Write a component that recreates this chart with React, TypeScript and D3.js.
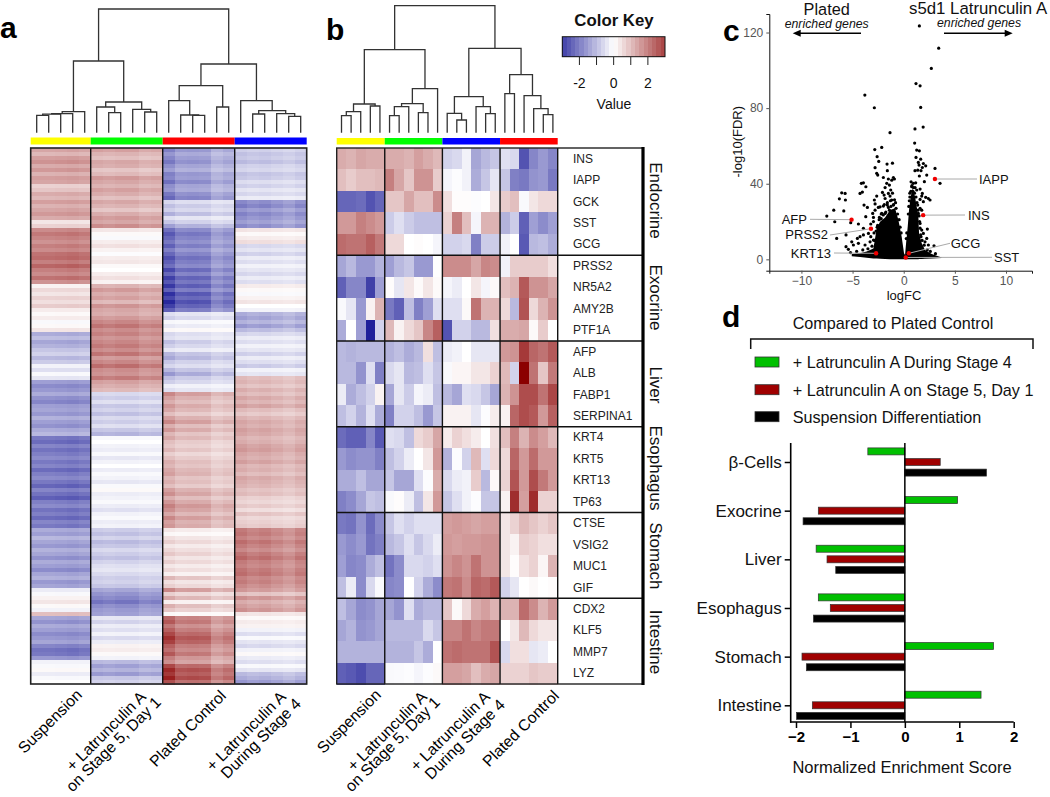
import React, { useEffect, useRef } from 'react';
import * as d3 from 'd3';

const suspensionRows = [1.4,1.1,1.5,1.7,1.3,1.6,1.2,1.5,1.4,.7,.9,1.3,1.1,1.5,1.2,1.4,1.6,1.3,.4,.7,1.8,2.1,1.9,1.7,2,1.8,2.2,2.3,2,2.4,2,1.8,2.2,1.7,.2,.6,.4,.7,.5,.8,.3,.1,.3,-.1,.1,.4,-1.3,-1,-1.4,-1.2,-.9,-.7,-1.1,-.8,-.2,-.5,-.1,-.4,-1.5,-1.8,-1.6,-1.3,-1.7,-1.9,-1.5,-1.4,-1.6,-1.2,-1.5,-1.7,-1.3,-1.1,-2.1,-2.3,-1.9,-2.2,-2,-1.8,-2.1,-1.9,-2.3,-2,-1.8,-2.1,-2.4,-1.9,-2.2,-2.5,-2,-1.8,-2.2,-2,-2.3,-1.9,-2.1,-1.3,-1.5,-1.1,-1.4,-1.6,-1.2,-1.4,-1.7,-1.3,-1.5,-1.8,-1.4,-1.2,-1.6,-1.4,-.3,-.1,.2,.4,.1,-.2,1,-1.4,-1.7,-1.3,-1.5,-1.8,-1.6,-1.4,-1.9,-2.2,-2.1,-1.6,-.2,-.1,.1,-.3,-.1,0];
const stage5Rows = [1.5,1.2,1,1.4,1.3,.9,1.1,1.6,1.4,1.2,1.5,1.3,1,1.4,1.2,.9,1.3,1.6,1.4,1.8,.4,.1,-.1,.3,.5,.2,-.05,.3,.4,.1,0,.3,.5,.2,1.2,1.6,1.3,1.5,1.1,1.7,1.4,1.3,1.6,1.9,2.2,1.8,2,1.7,1.9,2.1,1.8,2.2,1.6,1.9,2.3,1.8,1.7,2.1,1.5,1.3,1.1,-.6,-.8,-.5,-.9,-.7,-1,-.6,-.8,-.5,-.9,-1.2,-.1,0,-.2,-.3,-.1,-.4,-.2,0,-.3,-.1,-.2,-.4,-.1,.1,-.3,-.2,-.1,-.3,-.5,-.2,-.1,-.3,-.2,-.8,-1,-.7,-1.1,-.9,-.6,-.8,-1,-.7,-.5,-.4,-.6,-.8,-.7,-.9,-1.4,-1.7,-1.9,-2.2,-1.8,-1.6,-1.5,-.4,-.7,-.3,-.5,-.2,-.6,-.3,.2,.3,.1,-.2,-1.1,-1.5,-1.2,-1.6,-.9,-.7];
const platedRows = [-1.6,-1.3,-1.5,-1.7,-1.4,-1.2,-1.6,-1.5,-1.8,-1.4,-1.3,-1.7,-1.9,-.5,-.8,-.6,-1,-.4,-.7,-1.2,-1.8,-2.1,-1.9,-1.7,-2,-1.6,-1.9,-2.2,-2,-1.8,-2.3,-1.9,-2.4,-2.1,-2.5,-2,-2.6,-2.3,-2.7,-2.4,-2,-.4,-.6,-.1,-.3,.1,-.5,-.4,-.8,-.6,-.3,-.9,-1.1,-.7,-.5,-.9,-1.3,-.8,-.6,-.2,-.4,1.5,1.2,1,1.3,1.1,.8,1.2,1.5,1,1.3,.9,1.1,.8,.7,.9,.6,.8,1,.9,1.1,1.2,.9,1,.8,1.2,1.4,1,1.3,1.6,1.4,1.1,1.5,1.2,1.3,.3,.1,.4,.6,.3,.5,.7,.4,.6,.3,.5,.2,.9,.4,.6,1.5,.6,1.1,.2,1,.7,.1,1.9,2.1,1.7,2,2.3,2.6,2.4,2,1.8,2.1,1.6,1.4,2.3,2.7,2.5,2.8,2.2];
const stage4Rows = [-.7,-.9,-.8,-1,-.7,-.6,-.9,-.8,-.5,-.7,-.4,-.6,-.3,-1.7,-1.9,-1.5,-1.8,-1.6,-1.4,-1.7,.4,.1,.3,.5,-.6,-.4,-.7,-.3,-.5,-.2,-.4,-.6,-.3,-.5,.3,.1,-.1,.2,.4,0,-.2,-1.2,-1.4,-1.1,-1.5,-1,-.6,-.3,-.5,-.2,-.4,-.7,-.3,-.5,-.8,-.2,-.4,1,1.1,.9,1.2,1,1.3,1.1,1.4,1,.8,1.1,1.3,1.2,1.4,1.3,1.1,1.2,1.4,1.5,1.3,1.2,1.4,1.1,1.2,1,1.3,1.2,1.1,.9,1,.7,.6,.8,.5,.9,.6,.7,.8,1.9,2,1.8,2.1,1.9,1.7,2,2.2,1.9,1.8,2,2.1,1.8,1.9,1.7,1.5,.9,1.6,1.2,1.4,1.6,.4,.1,.3,.2,-.2,-.5,-.1,-.4,-.6,-.2,.1,-.3,-.5,-.1,-.4,-1,-1.2,-1.5];
// How strongly each sample column follows its group's row value
const suspensionWeights = [1, 1, 1.02, 1.05, 1];
const stage5Weights = [1, .95, 1, 1, .88, .92];
const platedWeights = [1.25, 1, 1.02, 1, .75, .85];
const stage4Weights = [1.1, 1, 1.05, .95, .85, 1];

// Panel b
const genes = ['INS','IAPP','GCK','SST','GCG','PRSS2','NR5A2','AMY2B','PTF1A','AFP','ALB','FABP1','SERPINA1','KRT4','KRT5','KRT13','TP63','CTSE','VSIG2','MUC1','GIF','CDX2','KLF5','MMP7','LYZ'];
const geneValues = [
  [1.3,1.2,1.4,1.3,1.3, 1.3,1.3,1.2,1.5,1.3,1.1, -.7,-.6,-.2,-1.4,-1.1,-.9, -.5,-.6,-2.7,-1.9,-1.6,-1.9],
  [1,.8,1,1,1.1, 2,1.4,.9,1.7,1.7,.8, -.15,-.05,-.2,-1.3,-.9,-.4, -.9,-2,-2.1,-1.7,-1.6,-2.1],
  [-2.4,-2.4,-2.3,-2.7,-2.4, .9,.9,1.4,1,1,1.8, .5,.05,.05,-.05,0,.4, .8,1,-.1,.4,.6,.6],
  [1.6,1.6,2,1.8,1.6, -.8,-.5,-.8,-1,-1,-1, .7,2,1,-.15,1.2,1.2, -1.2,-.8,-2.5,-1.5,-1.8,-1.5],
  [2.3,2.2,2.2,2.5,2.1, .6,.6,0,.05,0,-.15, -.7,-.7,-.6,-2,-.8,-.8, -.2,0,-2.6,-1.1,-1,-1.3],
  [-1.4,-1.1,-1.6,-1.6,-1.2, -1.5,-1.1,-.9,-1.6,-1.6,-.02, 1.8,1.8,1.8,1.4,1.9,1.8, -.2,.8,.8,.8,.8,.5],
  [-2.5,-1.9,-1.9,-3,-1.5, .05,-.4,.4,.08,.4,.08, -.15,-.3,0,.4,-.15,.1, 1,1.2,2.6,1.7,1.7,1.4],
  [-.1,-.4,-1.6,.2,1.2, -2.1,-2.5,-1,-2,-1.5,-.5, -.5,-.5,.1,2.2,1.2,1.2, .6,-1.1,2.7,.6,1.2,1.7],
  [-1.3,0,-1.5,-3.5,-.7, 1.1,.2,.6,.9,1.9,2.5, -2.7,-.7,-.7,-1.1,-1.1,.5, 1.3,1.3,1.4,.1,.8,-.02],
  [-1.1,-1.2,-1.1,-1.1,-1.1, -1.2,-1,-1.3,-1.1,.5,-1, -.3,-.2,0,-.4,-.4,-.4, 1.6,1.7,3.1,2.4,2.2,2.6],
  [-1.1,-1.1,-1.7,-.5,-2, -.6,-.4,-1.1,-1,-.5,-.9, -.1,.15,.15,.4,.4,.7, 1.1,-.7,4,2.2,.9,2.1],
  [-.3,-1.3,-1,-.7,.2, -1.4,-.4,-.8,-.15,-.3,-1, -1.1,-1.4,-.5,-.6,-.9,-1.4, 1.2,1.7,2.8,2.8,2.2,2.9],
  [-1,-.7,-1.2,-.5,-1.3, -2,-.7,-.7,-1,-1.6,-.9, .2,.2,.2,-.4,-.05,.3, .2,2.4,2.8,2.6,1.6,2.5],
  [-2.3,-2.5,-2.5,-1.9,-2.6, -.5,-.6,-1,.6,.8,1.4, .3,.7,.5,.3,0,.5, 1,2,1.2,1.8,1.5,1.1],
  [-1.6,-1.8,-1.7,-1.7,-2, -1,-.7,-.3,0,.4,1.6, -1.2,-.05,-.7,1.1,-.5,.6, .6,2.4,1.6,2.3,1.6,1.6],
  [-1.3,-1.3,-1,-1.4,-1.4, -.9,-1.4,-1.4,-.5,-.05,1.3, -.6,-.3,-.2,.8,-1.1,.1, .7,2.7,1.6,2.8,2.1,1.6],
  [-2,-1.8,-1.4,-.9,-1, -.1,.05,-.3,-1,.4,1.6, -.9,-.5,-.2,-.05,-.9,-.9, .2,3.3,1.5,3.3,.7,.7],
  [-2.1,-2.2,-1.7,-2.3,-1.8, -.9,-.5,-.7,-.5,-.5,-.5, 1.5,1.6,1.5,1.4,1.5,1.5, .4,.7,1.1,.9,.7,.9],
  [-1.6,-1.8,-1.6,-2.2,-2, -1.1,-.9,-.5,-.9,-.6,-.3, 1.6,1.5,1.6,1.6,1.7,1.7, .4,.2,.8,.7,.5,.5],
  [-1.5,-1.9,-1.8,-1.3,-1, -2.2,-1.8,-.6,-.6,-.7,-.5, 1.7,1.9,1.7,2.2,1.7,1.7, .4,.05,.5,.7,.15,1.2],
  [-1,-.3,-1.8,-.6,-.1, -1.9,-1.8,0,-.7,-1.3,-1.8, 2.1,2.2,1.8,2.4,2.3,2.6, -.7,-.4,0,.1,0,.05],
  [-1,-1.4,-1.8,-1.7,-1.4, -1.4,-1.7,-.5,-1.3,-1.1,-1.1, .9,.1,.6,1.3,1.5,1.2, 1.2,1.2,2.3,1.8,1.2,1.6],
  [-1.4,-1.2,-1.7,-1.6,-1.4, -1.1,-1.1,-1.1,-1.1,-.6,-.9, 1.9,1.9,2.2,1.9,2.1,2.1, 0,.4,1.1,.6,.4,.4],
  [-1.2,-1.2,-1.2,-1.2,-1.2, -1.2,-1.2,-1.2,-.9,-1.3,0, 2.2,2.3,2.2,2.2,2.2,2.7, -.6,.5,.5,-.4,-.3,0],
  [-2.5,-2.6,-2.8,-2.4,-2.4, -.1,-.08,-.05,-.15,-.05,.1, 1.5,1.5,1.4,1,1.3,1.4, .7,.7,.7,.9,.8,.8],
];
const geneGroups = ['Endocrine', 'Exocrine', 'Liver', 'Esophagus', 'Stomach', 'Intestine'];
const geneGroupSizes = [5, 4, 4, 4, 4, 4];

// Dendrograms: [height, left, right], 0 is a leaf
const treeA: any = [123.7,
  [71.7,
    [21, [19, [18.5, [17.3, 0, 0], 0], 0], 0],
    [30.7, [25.7, 0, [20, 0, 0]], [23.3, 0, [20.7, 0, 0]]]],
  [68.7,
    [47, [32, 0, [17.7, 0, [17.3, 0, 0]]], [25.7, 0, 0]],
    [32, 0, [22, [18.7, 0, 0], [19, 0, [16.3, 0, 0]]]]]];
const treeB: any = [127,
  [83,
    [28.7, [21, [17, 0, 0], 0], [26.7, 0, 0]],
    [44, [29, [26, [17, 0, 0], 0], [20, 0, 0]], 0]],
  [84.3,
    [36, [19.3, 0, [12.7, 0, 0]], [26, 0, [19, 0, 0]]],
    [58, [39, 0, 0], [37, 0, [24, 0, [18, 0, 0]]]]]];

// Panel c: logFC, -log10(FDR)
const volcanoPoints = [
  [1.53,123.5],[3.42,111.7],[2.7,101],[1.2,93],[1.6,91.8],[-3.8,86.9],[-2.87,80.2],[1.66,80.4],[1.9,70],[1.1,69],[-1.34,67],
  [1.07,61.5],[-2.83,58.1],[-2.15,59.2],[1.27,57.8],[1.53,57.4],[-2.6,54.3],[1.2,53.9],[-2.44,51.8],[1.66,53],[1.43,51.3],[1.92,50.7],
  [1.5,49.9],[2.15,49.5],[1.82,48.6],[3.06,48.1],[1.69,46.9],[1.1,46.9],[1.37,47.2],[1.53,44.1],[2.25,44.6],[2.02,41.1],[3.55,40.2],
  [.72,41],[.94,40.2],[1.17,40.5],[.78,38.4],[1.11,38],[1.27,36.7],[1.6,37.2],[1.82,34.9],[1.76,33.5],[2.15,32.8],[2.57,31.4],[2.41,32.2],
  [1.92,30.5],[1.6,31.7],[1.37,28.7],[1.6,27],[1.76,26],[1.43,24.3],[1.27,20.8],[1.6,19],[2.31,16],[1.76,15.5],[1.92,13.7],[1.69,12],
  [2.96,7.2],[2.25,11.1],[2.41,7.6],[2.08,9.3],[.6,35],[.9,36],[1.0,33],[.75,30],
  [-1.63,50.4],[-1.1,50.9],[-2.8,48.5],[-1.6,46.9],[-2.64,45.5],[-2.54,44.6],[-1.99,43.3],[-1.01,43.3],[-1.5,42.5],[-1.17,41.9],[-.91,42.5],
  [-1.66,40.2],[-1.4,39.3],[-1.82,38],[-2.08,35.4],[-1.92,34],[-1.5,34.9],[-1.27,36.7],[-1.34,33.5],[-1.82,32.2],[-2.64,33.5],[-2.87,31.4],
  [-2.8,29.3],[-2.31,27.8],[-3.88,28.7],[-3.55,27.5],[-2.8,26],[-3.03,24.3],[-2.96,22.2],[-2.48,27.5],[-1.99,28.2],[-1.6,28.7],[-1.17,31.4],
  [-1.01,28.7],[-1.4,26],[-2.15,24.3],[-2.38,22.2],[-1.82,24.3],[-2.96,20],[-3.22,18.7],[-3.94,16.4],[-4.43,18.7],[-3.94,12.9],[-4.27,12],
  [-4.53,11.1],[-5.08,9.3],[-5.64,6.7],[-5.41,5.3],[-4.92,7.6],[-4.43,8.5],[-3.45,13.7],[-3.22,12],[-2.96,10.2],[-3.78,7.6],[-3.29,9.3],
  [-5.64,12.9],[-6.55,11.1],[-4.14,40.2],[-3.94,40.5],[-3.7,38.4],[-4.04,35.6],[-4.27,34.9],[-6.06,35.2],[-5.73,34.9],[-6.29,32],[-5.7,31.4],
  [-6.84,26],[-5.86,25.6],[-7.52,22.9],[-6.74,19.9],[-5.18,19.4],[-3.71,22.6],[-2.6,17],[-2.9,14],[-2.2,24],[-1.1,35],[-.8,30],[-1.9,29],
  [-2.7,15],[-2.55,18],[-2.4,21],[-2.2,21.5],[-2,23.5],[-1.75,25],[-1.5,27.5],[-1.25,28],[-1,29],[-.75,27],[-.6,24],[-.45,21],[-.35,17],[-.25,14],
  [-2.85,10],[-2.75,7.5],[-3.1,7],[-3.5,5.6],[-4,5],[-4.6,4.2],[-5.2,3.6],[-1.6,30],[-1.3,31],[-.9,31.5],
  [.45,24],[.5,28],[.55,31],[.6,33],[.7,36],[.8,39],[.95,38],[1.05,35],[1.2,33],[1.3,30],[1.4,26],[1.5,23],[1.55,20],[1.6,16.5],[1.65,13],[1.8,10],
  [2,7.5],[2.3,5],[2.6,4.2],[3.1,3],[.3,14],[.25,11],
];
const envelopeFC = [-5.08,-4.27,-3.62,-2.96,-2.64,-2.31,-1.82,-1.34,-.85,-.52,-.2,.03,.13,.23,.39,.52,.68,.85,1.11,1.43,1.5,1.76,2.08,2.74,3.71];
const envelopeTop = [2.8,3.2,4.1,5.8,16.4,19.9,22.2,26.1,27,20.8,12,3.2,2.3,8.5,17.3,26.1,33.1,37.5,33.1,22.6,13.7,8.5,4.9,2.8,1];
const envelopeBottom = [1.6,1.2,.8,.5,.4,.3,.2,.1,.1,0,0,0,0,0,0,0,0,.1,.1,.1,.2,.2,.3,.4,.7];
const markedGenes = ['IAPP', 'INS', 'AFP', 'PRSS2', 'KRT13', 'GCG', 'SST'];
const markedFC = [3.05, 1.9, -5.1, -3.2, -2.7, .5, .2];
const markedFDR = [42.5, 23.4, 21, 16.2, 3.2, 3.2, 1];

// Panel d
const pathways = ['β-Cells', 'Exocrine', 'Liver', 'Esophagus', 'Stomach', 'Intestine'];
const enrichSeries = ['+ Latrunculin A During Stage 4', '+ Latrunculin A on Stage 5, Day 1', 'Suspension Differentiation'];
const enrichColors = ['#00c000', '#a00000', '#000000'];
const stage4Nes = [-.68, .97, -1.63, -1.59, 1.63, 1.4];
const stage5Nes = [.65, -1.59, -1.43, -1.37, -1.89, -1.7];
const suspensionNes = [1.5, -1.87, -1.27, -1.68, -1.81, -1.99];

const FONT = '"Liberation Sans", Arial, sans-serif';
const heat = d3.scaleLinear<string>().domain([-4, 0, 4]).range(['#00008b', '#ffffff', '#8b0000']).clamp(true);

const addText = (g: any, x: number, y: number, text: string, size: number, opts: any = {}) =>
  g.append('text')
    .attr('x', x).attr('y', y)
    .attr('font-size', size)
    .attr('font-family', FONT)
    .attr('font-weight', opts.weight || 'normal')
    .attr('font-style', opts.style || 'normal')
    .attr('fill', opts.fill || '#111')
    .attr('text-anchor', opts.anchor || 'start')
    .attr('dominant-baseline', opts.baseline || 'central')
    .attr('transform', opts.rotate ? `rotate(${opts.rotate},${x},${y})` : null)
    .text(text);

// Walks the tree through d3.hierarchy and draws the elbows
const drawDendrogram = (g: any, tree: any, x: d3.ScaleBand<number>, y: d3.ScaleLinear<number, number>) => {
  const root = d3.hierarchy(tree, (d: any) => (Array.isArray(d) ? [d[1], d[2]] : null));
  const leaves = root.leaves();
  const xOf = new Map<any, number>();
  root.eachAfter((n: any) => {
    xOf.set(n, n.children ? (xOf.get(n.children[0])! + xOf.get(n.children[1])!) / 2 : x(leaves.indexOf(n))! + x.bandwidth() / 2);
  });
  root.each((n: any) => {
    if (!n.children) return;
    const h = y(n.data[0]);
    const [a, b] = n.children;
    const hOf = (c: any) => y(c.children ? c.data[0] : 0);
    g.append('path')
      .attr('d', `M${xOf.get(a)},${hOf(a)}V${h}H${xOf.get(b)}V${hOf(b)}`)
      .attr('fill', 'none')
      .attr('stroke', '#333')
      .attr('stroke-width', 1.3);
  });
};

const drawRotatedLabels = (g: any, labels: { x: number; y: number; text: string }[]) => {
  labels.forEach(l => addText(g, l.x, l.y, l.text, 15.8, { anchor: 'end', rotate: -45, fill: '#000' }));
};

const App: React.FC = () => {
  const svgRef = useRef<SVGSVGElement>(null);

  useEffect(() => {
    const svg = d3.select(svgRef.current);
    svg.selectAll('*').remove();
    svg.append('rect').attr('width', 1050).attr('height', 797).attr('fill', '#fff');

    // --- panel a ---
    const a = svg.append('g');
    const groupsA = [
      { rows: suspensionRows, weights: suspensionWeights, color: '#ffff00' },
      { rows: stage5Rows, weights: stage5Weights, color: '#00ff00' },
      { rows: platedRows, weights: platedWeights, color: '#ff0000' },
      { rows: stage4Rows, weights: stage4Weights, color: '#0000ff' },
    ];
    const colA = d3.scaleBand<number>().domain(d3.range(23)).range([30.7, 306.7]);
    const rowA = d3.scaleBand<number>().domain(d3.range(suspensionRows.length)).range([148, 684]);
    let start = 0;
    const splitsA: number[] = [];
    groupsA.forEach(group => {
      group.weights.forEach((w, j) => {
        a.append('g').attr('shape-rendering', 'crispEdges').selectAll('rect')
          .data(group.rows)
          .enter()
          .append('rect')
          .attr('x', colA(start + j)!)
          .attr('y', (_d, i) => rowA(i)!)
          .attr('width', colA.bandwidth() + .5)
          .attr('height', rowA.bandwidth() + .5)
          .attr('fill', d => heat(d * w));
      });
      a.append('rect')
        .attr('x', colA(start)!)
        .attr('y', 137.5)
        .attr('width', colA.bandwidth() * group.weights.length)
        .attr('height', 7)
        .attr('fill', group.color);
      start += group.weights.length;
      splitsA.push(start);
    });
    splitsA.slice(0, 3).forEach(s => {
      a.append('line').attr('x1', colA(s)!).attr('x2', colA(s)!).attr('y1', 148).attr('y2', 684)
        .attr('stroke', '#111').attr('stroke-width', 1.4);
    });
    a.append('rect').attr('x', 30.7).attr('y', 148).attr('width', 276).attr('height', 536)
      .attr('fill', 'none').attr('stroke', '#222').attr('stroke-width', 1.6);
    drawDendrogram(a, treeA, colA, d3.scaleLinear().domain([0, 123.7]).range([132.7, 9]));
    drawRotatedLabels(a, [
      { x: 79, y: 692, text: 'Suspension' },
      { x: 143, y: 694, text: '+ Latrunculin A' },
      { x: 158, y: 699.5, text: 'on Stage 5, Day 1' },
      { x: 223, y: 693, text: 'Plated Control' },
      { x: 283, y: 694, text: '+ Latrunculin A' },
      { x: 298, y: 701, text: 'During Stage 4' },
    ]);

    // --- panel b ---
    const b = svg.append('g');
    const colB = d3.scaleBand<number>().domain(d3.range(23)).range([336.7, 557.7]);
    const rowB = d3.scaleBand<number>().domain(d3.range(genes.length)).range([148, 684]);
    geneValues.forEach((values, r) => {
      b.append('g').attr('shape-rendering', 'crispEdges').selectAll('rect')
        .data(values)
        .enter()
        .append('rect')
        .attr('x', (_d, c) => colB(c)!)
        .attr('y', rowB(r)!)
        .attr('width', colB.bandwidth() + .5)
        .attr('height', rowB.bandwidth() + .5)
        .attr('fill', d => heat(d));
      addText(b, 573, rowB(r)! + rowB.bandwidth() / 2, genes[r], 12, { fill: '#222' });
    });
    const barsB = [{ n: 5, color: '#ffff00' }, { n: 6, color: '#00ff00' }, { n: 6, color: '#0000ff' }, { n: 6, color: '#ff0000' }];
    let startB = 0;
    barsB.forEach(bar => {
      b.append('rect').attr('x', colB(startB)!).attr('y', 138).attr('width', colB.bandwidth() * bar.n).attr('height', 6.5).attr('fill', bar.color);
      startB += bar.n;
      if (startB < 23) {
        b.append('line').attr('x1', colB(startB)!).attr('x2', colB(startB)!).attr('y1', 148).attr('y2', 684)
          .attr('stroke', '#111').attr('stroke-width', 1.4);
      }
    });
    b.append('line').attr('x1', 557.7).attr('x2', 557.7).attr('y1', 148).attr('y2', 684).attr('stroke', '#111').attr('stroke-width', 1.4);
    let rowStart = 0;
    const labelCenters = [200.5, 297.5, 385, 468, 556, 642];
    geneGroups.forEach((name, i) => {
      rowStart += geneGroupSizes[i];
      if (rowStart < genes.length) {
        b.append('line').attr('x1', 336.7).attr('x2', 642).attr('y1', rowB(rowStart)!).attr('y2', rowB(rowStart)!)
          .attr('stroke', '#111').attr('stroke-width', 1.4);
      }
      addText(b, 655, labelCenters[i], name, 17, { anchor: 'middle', rotate: 90, fill: '#111' });
    });
    b.append('rect').attr('x', 336.7).attr('y', 148).attr('width', 306).attr('height', 536)
      .attr('fill', 'none').attr('stroke', '#222').attr('stroke-width', 1.4);
    b.append('line').attr('x1', 643).attr('x2', 643).attr('y1', 147).attr('y2', 685).attr('stroke', '#000').attr('stroke-width', 3.2);
    drawDendrogram(b, treeB, colB, d3.scaleLinear().domain([0, 127]).range([132.7, 5.7]));
    drawRotatedLabels(b, [
      { x: 378, y: 692, text: 'Suspension' },
      { x: 424, y: 694, text: '+ Latrunculin A' },
      { x: 437, y: 699.5, text: 'on Stage 5, Day 1' },
      { x: 487, y: 694, text: '+ Latrunculin A' },
      { x: 502, y: 702, text: 'During Stage 4' },
      { x: 556, y: 693, text: 'Plated Control' },
    ]);

    // Color key
    const key = svg.append('g');
    const keyX = d3.scaleLinear().domain([-3, 3]).range([562.3, 665]);
    const keySteps = d3.range(-3, 3, .25);
    key.append('g').attr('shape-rendering', 'crispEdges').selectAll('rect')
      .data(keySteps)
      .enter()
      .append('rect')
      .attr('x', d => keyX(d))
      .attr('y', 36.7)
      .attr('width', keyX(.25) - keyX(0) + .4)
      .attr('height', 20)
      .attr('fill', d => heat(d + .125));
    key.append('rect').attr('x', 562.3).attr('y', 36.7).attr('width', 102.7).attr('height', 20)
      .attr('fill', 'none').attr('stroke', '#111').attr('stroke-width', 1);
    d3.range(-2, 3).forEach(t => {
      key.append('line').attr('x1', keyX(t)).attr('x2', keyX(t)).attr('y1', 57).attr('y2', 65).attr('stroke', '#222');
      if (t % 2 === 0) addText(key, keyX(t), 83, String(t), 14, { anchor: 'middle' });
    });
    addText(key, 614, 20, 'Color Key', 16.8, { anchor: 'middle', weight: 'bold' });
    addText(key, 614, 104, 'Value', 14, { anchor: 'middle' });

    // --- panel c ---
    const c = svg.append('g');
    const xC = d3.scaleLinear().domain([-13.14, 12.54]).range([769.3, 1032]);
    const yC = d3.scaleLinear().domain([-6, 129.8]).range([270.7, 14]);
    const massArea = d3.area<number>()
      .x((_d, i) => xC(envelopeFC[i]))
      .y0((_d, i) => yC(envelopeBottom[i]))
      .y1(d => yC(d));
    c.append('path').attr('d', massArea(envelopeTop)!).attr('fill', '#000');
    c.selectAll('.volcano-dot')
      .data(volcanoPoints)
      .enter()
      .append('circle')
      .attr('class', 'volcano-dot')
      .attr('cx', d => xC(d[0]))
      .attr('cy', d => yC(d[1]))
      .attr('r', 1.6)
      .attr('fill', '#000');

    const xAxisC = c.append('g').attr('transform', 'translate(0,270.7)')
      .call(d3.axisBottom(xC).tickValues([-10, -5, 0, 5, 10]).tickSizeOuter(0).tickSize(3).tickFormat(d3.format('d')));
    const yAxisC = c.append('g').attr('transform', 'translate(769.3,0)')
      .call(d3.axisLeft(yC).tickValues([0, 40, 80, 120]).tickSizeOuter(0).tickSize(3));
    [xAxisC, yAxisC].forEach(ax => {
      ax.select('.domain').attr('stroke', '#111').attr('stroke-width', 1);
      ax.selectAll('line').attr('stroke', '#555');
      ax.selectAll('text').attr('font-family', FONT).attr('font-size', 12).attr('fill', '#555');
    });
    addText(c, 904, 295, 'logFC', 13, { anchor: 'middle' });
    addText(c, 737.7, 141.7, '-log10(FDR)', 13, { anchor: 'middle', rotate: -90 });

    // Gene callouts, line ends are given in screen position next to their label
    const callouts = [
      { tx: 979, ty: 179, anchor: 'start', end: [977, 179] },
      { tx: 968, ty: 215, anchor: 'start', end: [965, 215] },
      { tx: 807, ty: 219.3, anchor: 'end', end: [810, 219.3] },
      { tx: 828, ty: 234, anchor: 'end', end: [830, 235] },
      { tx: 831, ty: 253, anchor: 'end', end: [834, 253] },
      { tx: 950.7, ty: 243, anchor: 'start', end: [950, 243.3] },
      { tx: 994, ty: 257, anchor: 'start', end: [992, 257.3] },
    ];
    markedGenes.forEach((name, i) => {
      const co = callouts[i];
      c.append('line')
        .attr('x1', xC(markedFC[i])).attr('y1', yC(markedFDR[i]))
        .attr('x2', co.end[0]).attr('y2', co.end[1])
        .attr('stroke', '#aaa').attr('stroke-width', 1);
      addText(c, co.tx, co.ty, name, 13, { anchor: co.anchor });
    });
    markedGenes.forEach((_name, i) => {
      c.append('circle').attr('cx', xC(markedFC[i])).attr('cy', yC(markedFDR[i])).attr('r', 2.2).attr('fill', '#f00000');
    });

    addText(c, 826.7, 8.5, 'Plated', 16.3, { anchor: 'middle' });
    addText(c, 909, 8.5, 's5d1 Latrunculin A', 16.8, {});
    addText(c, 826.7, 24, 'enriched genes', 12.3, { anchor: 'middle', style: 'italic' });
    addText(c, 979, 23, 'enriched genes', 12.3, { anchor: 'middle', style: 'italic' });
    c.append('path').attr('d', 'M861,33.3H798M944,33.3H1007').attr('stroke', '#000').attr('stroke-width', 1.6).attr('fill', 'none');
    c.append('path').attr('d', 'M792.7,33.3l8,-3.5v7zM1012.7,33.3l-8,-3.5v7z').attr('fill', '#000');

    // --- panel d ---
    const d = svg.append('g');
    addText(d, 893, 322.7, 'Compared to Plated Control', 16.2, { anchor: 'middle' });
    d.append('path').attr('d', 'M750.7,349V339H1033V349').attr('fill', 'none').attr('stroke', '#111').attr('stroke-width', 1.5);
    const legendY = [362, 389.7, 416.7];
    enrichSeries.forEach((name, i) => {
      d.append('rect').attr('x', 755).attr('y', legendY[i] - 5).attr('width', 24).attr('height', 10)
        .attr('fill', enrichColors[i]).attr('stroke', '#333').attr('stroke-width', .8);
      addText(d, 792.7, legendY[i], name, 16.2, {});
    });

    const xD = d3.scaleLinear().domain([-2, 2]).range([796, 1013.7]);
    const yD = d3.scalePoint<string>().domain(pathways).range([462, 705.3]);
    const seriesOffset = d3.scalePoint<string>().domain(enrichSeries).range([-10.6, 10.6]);
    [stage4Nes, stage5Nes, suspensionNes].forEach((values, s) => {
      d.selectAll(`.nes-bar-${s}`)
        .data(values)
        .enter()
        .append('rect')
        .attr('class', `nes-bar-${s}`)
        .attr('x', v => Math.min(xD(v), xD(0)))
        .attr('y', (_v, i) => yD(pathways[i])! + seriesOffset(enrichSeries[s])! - 3.5)
        .attr('width', v => Math.abs(xD(v) - xD(0)))
        .attr('height', 7)
        .attr('fill', enrichColors[s])
        .attr('stroke', '#333')
        .attr('stroke-width', .7);
    });
    d.append('line').attr('x1', xD(0)).attr('x2', xD(0)).attr('y1', 443).attr('y2', 722).attr('stroke', '#000').attr('stroke-width', 1.5);
    d.append('line').attr('x1', 790.7).attr('x2', 790.7).attr('y1', 443).attr('y2', 722.7).attr('stroke', '#000').attr('stroke-width', 1.6);
    const xAxisD = d.append('g').attr('transform', 'translate(0,722)')
      .call(d3.axisBottom(xD).tickValues([-2, -1, 0, 1, 2]).tickSizeOuter(0).tickSize(6).tickFormat(d3.format('d')));
    xAxisD.select('.domain').attr('d', 'M790,0H1013.7').attr('stroke', '#000').attr('stroke-width', 1.5);
    xAxisD.selectAll('line').attr('stroke', '#000').attr('stroke-width', 1.5);
    xAxisD.selectAll('text').attr('font-family', FONT).attr('font-size', 15).attr('font-weight', 'bold').attr('fill', '#000');
    const yAxisD = d.append('g').attr('transform', 'translate(790.7,0)')
      .call(d3.axisLeft(yD).tickSizeOuter(0).tickSize(6).tickPadding(3));
    yAxisD.select('.domain').remove();
    yAxisD.selectAll('line').attr('stroke', '#000').attr('stroke-width', 1.5);
    yAxisD.selectAll('text').attr('font-family', FONT).attr('font-size', 17).attr('fill', '#111');
    addText(d, 902, 767, 'Normalized Enrichment Score', 16.5, { anchor: 'middle' });

    // Panel letters
    addText(svg, 0, 38, 'a', 30, { weight: 'bold', baseline: 'auto', fill: '#000' });
    addText(svg, 326, 40, 'b', 30, { weight: 'bold', baseline: 'auto', fill: '#000' });
    addText(svg, 723, 41, 'c', 30, { weight: 'bold', baseline: 'auto', fill: '#000' });
    addText(svg, 722, 327, 'd', 30, { weight: 'bold', baseline: 'auto', fill: '#000' });
  }, []);

  return (
    <svg ref={svgRef} width={1050} height={797} style={{ position: 'absolute', left: 0, top: 0 }} />
  );
};

export default App;
